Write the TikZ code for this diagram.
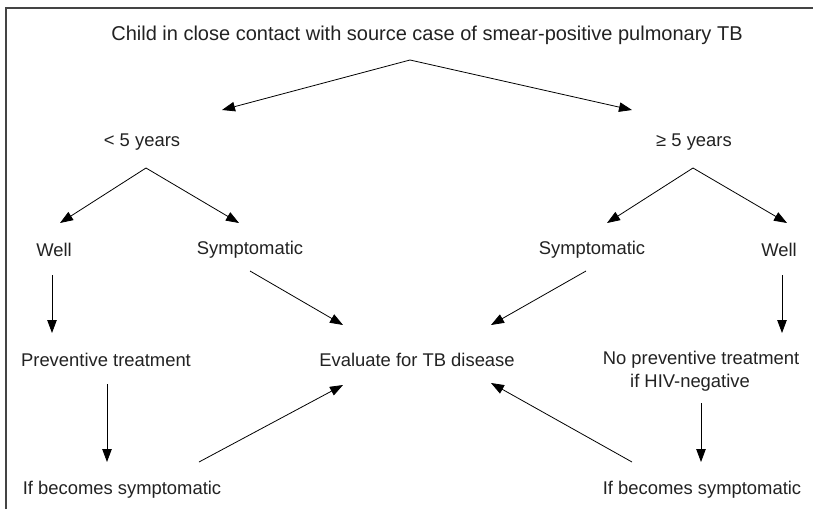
\documentclass[tikz,border=0pt]{standalone}
\usepackage{fontspec}
\setmainfont{Liberation Sans}
\usetikzlibrary{arrows.meta}
\definecolor{txt}{HTML}{222222}
\definecolor{frame}{HTML}{444444}
\begin{document}
\begin{tikzpicture}[x=1pt,y=-1pt,
  lbl/.style={inner sep=0pt,text=txt,font=\fontsize{18.4}{22}\selectfont},
  conn/.style={line width=0.8pt,-{Triangle[length=13pt,width=9.5pt]}}]
\useasboundingbox (0,0) rectangle (813,509);
\fill[white] (0,0) rectangle (813,509);
\draw[frame,line width=2pt] (5.5,509) -- (5.5,7.5) -- (813,7.5);
% texts
\node[lbl,font=\fontsize{20}{24}\selectfont] (title) at (427,35) {Child in close contact with source case of smear-positive pulmonary TB};
\node[lbl] (lt5) at (142,142) {< 5 years};
\node[lbl] (ge5) at (694,142) {≥ 5 years};
\node[lbl] (wellL) at (54,250) {Well};
\node[lbl] (symL) at (250,250) {Symptomatic};
\node[lbl] (symR) at (592,250) {Symptomatic};
\node[lbl] (wellR) at (779,250) {Well};
\node[lbl] (prev) at (106,360) {Preventive treatment};
\node[lbl] (eval) at (417,360) {Evaluate for TB disease};
\node[lbl] (noprev) at (701,360) {No preventive treatment};
\node[lbl] (hivneg) at (690,383) {if HIV-negative};
\node[lbl] (ifsL) at (122,490) {If becomes symptomatic};
\node[lbl] (ifsR) at (702,490) {If becomes symptomatic};
% connector points
\coordinate (v0) at (410,60);
\coordinate (v0l) at (222,110);
\coordinate (v0r) at (632,110);
\coordinate (v1) at (146,168);
\coordinate (v1l) at (60,223);
\coordinate (v1r) at (239,223);
\coordinate (v2) at (693,168);
\coordinate (v2l) at (607,223);
\coordinate (v2r) at (787,223);
\coordinate (wLa) at (52,275);
\coordinate (wLb) at (52,333);
\coordinate (sLa) at (250,271);
\coordinate (sLb) at (343,325);
\coordinate (sRa) at (586,271);
\coordinate (sRb) at (491,325);
\coordinate (wRa) at (782,275);
\coordinate (wRb) at (782,333);
\coordinate (pa) at (107,384);
\coordinate (pb) at (107,462);
\coordinate (dLa) at (199,462);
\coordinate (dLb) at (343,385);
\coordinate (dRa) at (632,462);
\coordinate (dRb) at (491,383);
\coordinate (na) at (701,403);
\coordinate (nb) at (701,462);
% connectors
\draw[conn] (v0) -- (v0l);
\draw[conn] (v0) -- (v0r);
\draw[conn] (v1) -- (v1l);
\draw[conn] (v1) -- (v1r);
\draw[conn] (v2) -- (v2l);
\draw[conn] (v2) -- (v2r);
\draw[conn] (wLa) -- (wLb);
\draw[conn] (sLa) -- (sLb);
\draw[conn] (sRa) -- (sRb);
\draw[conn] (wRa) -- (wRb);
\draw[conn] (pa) -- (pb);
\draw[conn] (dLa) -- (dLb);
\draw[conn] (dRa) -- (dRb);
\draw[conn] (na) -- (nb);
\end{tikzpicture}
\end{document}
